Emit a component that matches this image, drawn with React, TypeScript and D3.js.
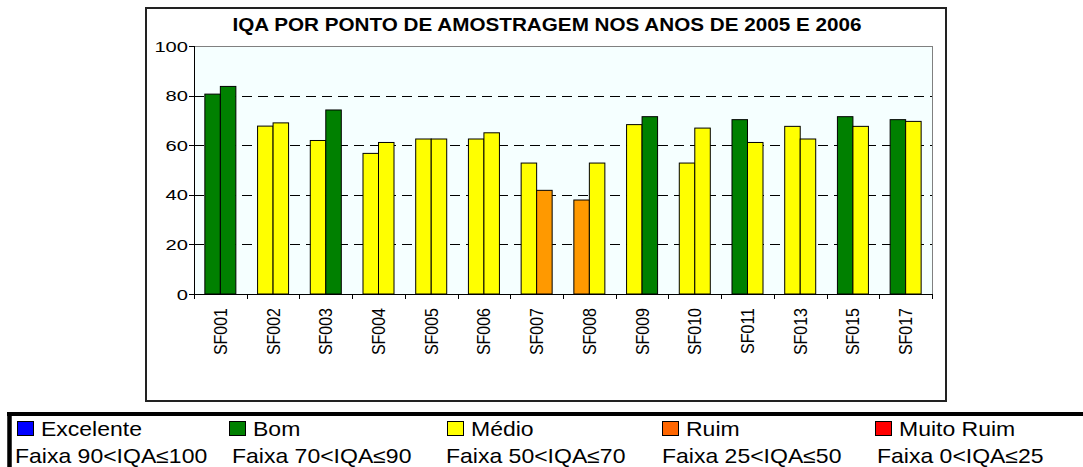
import React from "react";
import * as d3 from "d3";

const categories = ["SF001","SF002","SF003","SF004","SF005","SF006","SF007","SF008","SF009","SF010","SF011","SF013","SF015","SF017"];
const series = ["2005","2006"];
const values2005 = [80.6, 67.7, 61.9, 56.7, 62.5, 62.5, 52.8, 37.9, 68.3, 52.8, 70.3, 67.6, 71.5, 70.3];
const values2006 = [83.7, 69.0, 74.2, 61.1, 62.5, 65.0, 41.8, 52.8, 71.5, 66.9, 61.1, 62.5, 67.6, 69.6];
const yTicks = [0, 20, 40, 60, 80, 100];
const gridTicks = [20, 40, 60, 80];
const legendLabels = ["Excelente", "Bom", "Médio", "Ruim", "Muito Ruim"];
const legendRanges = ["Faixa 90<IQA≤100", "Faixa 70<IQA≤90", "Faixa 50<IQA≤70", "Faixa 25<IQA≤50", "Faixa 0<IQA≤25"];
const legendColors = ["#0000FF", "#008000", "#FFFF00", "#FF6600", "#FF0000"];
const titleText = "IQA POR PONTO DE AMOSTRAGEM NOS ANOS DE 2005 E 2006";

const W = 1083, H = 467;
const plot = { l: 194, r: 932, t: 46, b: 294 };
const font = "'Liberation Sans', Arial, sans-serif";
const SX = 1.15;

function barColor(v: number) {
  if (v > 90) return "#0000FF";
  if (v > 70) return "#008000";
  if (v > 50) return "#FFFF00";
  if (v > 25) return "#FF9900";
  return "#FF0000";
}

export default function App() {
  const x = d3.scaleBand<string>().domain(categories).range([plot.l, plot.r]).padding(0);
  const xs = d3.scaleBand<string>().domain(series).range([0, x.bandwidth()]).paddingInner(0).paddingOuter(0.7);
  const y = d3.scaleLinear().domain([0, 100]).range([plot.b, plot.t]);
  const data = [values2005, values2006];
  const legendX = [17, 229, 447, 662, 875];
  const rangeX = [15, 232, 446, 662, 877];

  return (
    <>
      <style>{`body{margin:0}`}</style>
      <svg width={W} height={H} style={{ display: "block" }} fontFamily={font}>
        <rect x={0} y={0} width={W} height={H} fill="#fff" />
        {/* chart frame */}
        <rect x={146} y={8} width={800} height={393} fill="#fff" stroke="#222" strokeWidth={2} />
        <text x={547} y={31} textAnchor="middle" fontWeight="bold" fontSize={18.5} textLength={629} lengthAdjust="spacingAndGlyphs">{titleText}</text>
        {/* plot background */}
        <rect x={plot.l} y={plot.t} width={plot.r - plot.l} height={plot.b - plot.t} fill="#F5FFFF" />
        <line x1={plot.l} x2={plot.r} y1={plot.t + 0.5} y2={plot.t + 0.5} stroke="#808080" />
        <line x1={plot.r + 0.5} x2={plot.r + 0.5} y1={plot.t} y2={plot.b} stroke="#808080" />
        {gridTicks.map(t => (
          <line key={t} x1={plot.l} x2={plot.r} y1={Math.round(y(t)) + 0.5} y2={Math.round(y(t)) + 0.5} stroke="#000" strokeDasharray="10,6" />
        ))}
        {/* bars */}
        {categories.map((c, i) => (
          <g key={c}>
            {series.map((s, j) => {
              const v = data[j][i];
              const bx = (x(c) as number) + (xs(s) as number);
              return (
                <rect key={s} x={bx} y={y(v)} width={xs.bandwidth()} height={plot.b - y(v)} fill={barColor(v)} stroke="#000" strokeWidth={1} />
              );
            })}
          </g>
        ))}
        {/* y axis */}
        <line x1={plot.l + 0.5} x2={plot.l + 0.5} y1={plot.t} y2={plot.b} stroke="#000" />
        {yTicks.map(t => (
          <g key={t}>
            <line x1={plot.l - 5} x2={plot.l} y1={Math.round(y(t)) + 0.5} y2={Math.round(y(t)) + 0.5} stroke="#000" />
            <text transform={`translate(${plot.l - 6},${y(t) + 5.5}) scale(1.3,1)`} textAnchor="end" fontSize={15.5}>{t}</text>
          </g>
        ))}
        {/* x axis */}
        <line x1={plot.l} x2={plot.r} y1={plot.b + 0.5} y2={plot.b + 0.5} stroke="#000" />
        {categories.map(c => (
          <line key={"t" + c} x1={Math.round(x(c) as number) + 0.5} x2={Math.round(x(c) as number) + 0.5} y1={plot.b} y2={plot.b + 5} stroke="#000" />
        ))}
        <line x1={plot.r + 0.5} x2={plot.r + 0.5} y1={plot.b} y2={plot.b + 5} stroke="#000" />
        {categories.map(c => {
          const cx = (x(c) as number) + x.bandwidth() / 2 + 6.5;
          return (
            <text key={"l" + c} transform={`translate(${cx},308) scale(1.2,1) rotate(-90)`} textAnchor="end" fontSize={16}>{c}</text>
          );
        })}
        {/* legend */}
        <line x1={7} x2={W} y1={414} y2={414} stroke="#000" strokeWidth={4} />
        <line x1={9.5} x2={9.5} y1={412} y2={H} stroke="#000" strokeWidth={4.5} />
        {legendLabels.map((lab, i) => (
          <g key={lab}>
            <rect x={legendX[i] + 0.5} y={421.5} width={16} height={14} fill={legendColors[i]} stroke="#000" />
            <text transform={`translate(${legendX[i] + 24},436) scale(${SX},1)`} fontSize={20}>{lab}</text>
            <text transform={`translate(${rangeX[i]},462.5) scale(${SX},1)`} fontSize={20}>{legendRanges[i]}</text>
          </g>
        ))}
      </svg>
    </>
  );
}
